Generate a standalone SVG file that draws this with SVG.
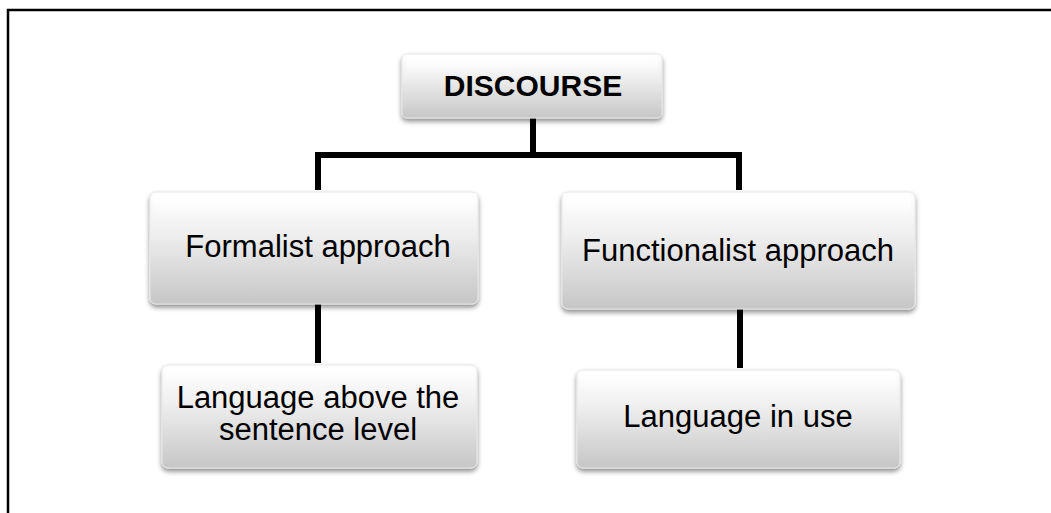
<svg xmlns="http://www.w3.org/2000/svg" width="1051" height="513" viewBox="0 0 1051 513">
  <style>
    .box { fill: url(#gloss); stroke: #e6e6e6; stroke-width: 1; filter: url(#shadow); }
    .shine { fill: url(#shine); }
    .label { font-family: "Liberation Sans", Arial, sans-serif; font-size: 31px; fill: #000; text-anchor: middle; }
    .bold { font-weight: bold; font-size: 30px; }
    .wire { stroke: #000; stroke-width: 6; fill: none; }
    .frame { stroke: #000; stroke-width: 2.5; fill: none; }
  </style>
  <defs>
    <linearGradient id="gloss" x1="0" y1="0" x2="0" y2="1">
      <stop offset="0" stop-color="#ffffff"/>
      <stop offset="0.35" stop-color="#f0f0f0"/>
      <stop offset="1" stop-color="#c6c6c6"/>
    </linearGradient>
    <linearGradient id="shine" x1="0" y1="0" x2="0" y2="1">
      <stop offset="0" stop-color="#ffffff" stop-opacity="0.95"/>
      <stop offset="1" stop-color="#ffffff" stop-opacity="0"/>
    </linearGradient>
    <filter id="shadow" x="-5%" y="-10%" width="110%" height="130%">
      <feGaussianBlur in="SourceAlpha" stdDeviation="2.5"/>
      <feOffset dx="0" dy="3" result="b"/>
      <feComponentTransfer><feFuncA type="linear" slope="0.45"/></feComponentTransfer>
      <feMerge><feMergeNode/><feMergeNode in="SourceGraphic"/></feMerge>
    </filter>
  </defs>

  <!-- outer frame -->
  <path class="frame" d="M8,513 V10 H1051"/>

  <!-- connectors -->
  <g id="connectors">
    <path class="wire" d="M533,118 V155"/>
    <path class="wire" d="M318,190 V155 H739 V190"/>
    <path class="wire" d="M318,304 V363"/>
    <path class="wire" d="M740,309 V368"/>
  </g>

  <g id="discourse">
    <rect class="box" x="402" y="54" width="260" height="64" rx="5"/>
    <rect class="shine" x="406" y="56" width="252" height="18" rx="4"/>
    <text class="label bold" x="533" y="96">DISCOURSE</text>
  </g>

  <g id="formalist">
    <rect class="box" x="150" y="192" width="328" height="112" rx="6"/>
    <rect class="shine" x="154" y="194" width="320" height="22" rx="5"/>
    <text class="label" x="318" y="257">Formalist approach</text>
  </g>

  <g id="functionalist">
    <rect class="box" x="562" y="192" width="353" height="117" rx="6"/>
    <rect class="shine" x="566" y="194" width="345" height="22" rx="5"/>
    <text class="label" x="738" y="261">Functionalist approach</text>
  </g>

  <g id="above-sentence">
    <rect class="box" x="162" y="365" width="315" height="103" rx="6"/>
    <rect class="shine" x="166" y="367" width="307" height="20" rx="5"/>
    <text class="label" x="318" y="408">Language above the</text>
    <text class="label" x="318" y="440">sentence level</text>
  </g>

  <g id="in-use">
    <rect class="box" x="577" y="370" width="323" height="98" rx="6"/>
    <rect class="shine" x="581" y="372" width="315" height="20" rx="5"/>
    <text class="label" x="738" y="427">Language in use</text>
  </g>
</svg>
